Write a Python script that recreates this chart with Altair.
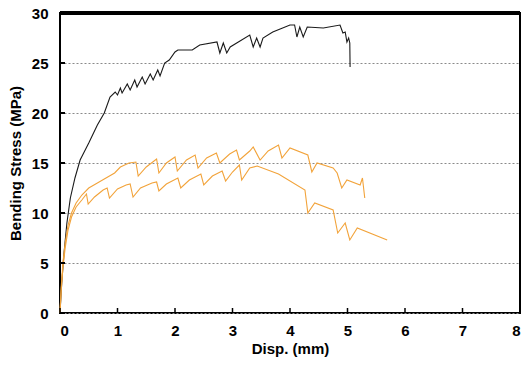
import altair as alt
import pandas as pd

# Bending stress vs. displacement, three specimens
black_x = [0, 0.03, 0.07, 0.12, 0.18, 0.26, 0.35, 0.5, 0.65, 0.77, 0.87, 0.96, 1.0, 1.05, 1.08,
           1.17, 1.22, 1.3, 1.34, 1.43, 1.48, 1.57, 1.62, 1.7, 1.74, 1.82, 1.9, 2.0, 2.05, 2.3,
           2.43, 2.73, 2.78, 2.84, 2.9, 2.96, 3.3, 3.36, 3.42, 3.48, 3.53, 3.7, 4.0, 4.08, 4.12,
           4.17, 4.23, 4.3, 4.58, 4.87, 4.92, 4.96, 4.99, 5.02, 5.04, 5.045]
black_y = [0, 3, 6, 9, 11.5, 13.5, 15.3, 17.0, 18.8, 20.0, 21.6, 22.1, 21.8, 22.5, 22.0,
           22.9, 22.3, 23.3, 22.6, 23.6, 22.9, 23.9, 23.3, 24.3, 23.7, 25.0, 25.3, 26.1, 26.3, 26.3,
           26.8, 27.1, 26.0, 27.0, 26.0, 26.6, 27.8, 26.6, 27.5, 26.6, 27.5, 28.1, 28.8, 28.8, 27.6,
           28.6, 27.6, 28.6, 28.5, 28.8, 28.0, 28.1, 27.1, 27.5, 27.0, 24.6]

upper_x = [0, 0.02, 0.05, 0.09, 0.14, 0.2, 0.28, 0.38, 0.5, 0.65, 0.8, 0.95, 1.05, 1.2, 1.32,
           1.36, 1.5, 1.68, 1.72, 1.85, 2.0, 2.04, 2.2, 2.35, 2.4, 2.55, 2.72, 2.78, 2.95, 3.07,
           3.12, 3.3, 3.36, 3.48, 3.62, 3.8, 3.86, 4.0, 4.31, 4.38, 4.47, 4.75, 4.82, 4.9, 4.99,
           5.22, 5.26, 5.3]
upper_y = [0, 2.5, 5, 7, 8.8, 10, 11, 11.8, 12.5, 13, 13.5, 14.0, 14.6, 15.0, 15.1,
           13.7, 14.6, 15.4, 14.0, 15.0, 15.6, 14.2, 15.3, 15.8, 14.5, 15.5, 16.0, 15.0, 15.9, 16.3,
           15.3, 16.2, 16.6, 15.3, 16.2, 16.8, 15.5, 16.5, 15.8, 14.1, 15.0, 14.5, 14.0, 12.5, 13.3,
           12.8, 13.5, 11.5]

lower_x = [0, 0.02, 0.05, 0.09, 0.14, 0.2, 0.28, 0.38, 0.46, 0.49, 0.6, 0.75, 0.82, 0.86, 1.0,
           1.15, 1.22, 1.27, 1.4, 1.6, 1.68, 1.72, 1.85, 2.05, 2.1, 2.25, 2.45, 2.5, 2.65, 2.82,
           2.88, 3.0, 3.12, 3.16, 3.3, 3.43, 3.8, 4.26, 4.31, 4.43, 4.75, 4.83, 4.96, 5.04, 5.17,
           5.69]
lower_y = [0, 2.2, 4.5, 6.5, 8.3, 9.6, 10.6, 11.3, 11.9, 10.9, 11.6, 12.3, 12.5, 11.5, 12.4,
           12.8, 12.9, 11.6, 12.5, 13.0, 13.1, 12.2, 12.9, 13.5, 12.5, 13.3, 13.9, 12.8, 13.7, 14.2,
           13.2, 14.1, 14.8, 13.3, 14.5, 14.7, 13.9, 12.3, 10.0, 11.0, 10.3, 8.0, 9.0, 7.3, 8.5,
           7.3]

x_ticks = [0, 1, 2, 3, 4, 5, 6, 7, 8]
y_ticks = [0, 5, 10, 15, 20, 25, 30]

rows = []
for name, xs, ys in [("A", black_x, black_y), ("B", upper_x, upper_y), ("C", lower_x, lower_y)]:
    for i, (xv, yv) in enumerate(zip(xs, ys)):
        rows.append({"specimen": name, "disp": xv, "stress": yv, "order": i})
df = pd.DataFrame(rows)

xscale = alt.Scale(domain=[0, 8], nice=False)
yscale = alt.Scale(domain=[0, 30], nice=False)
font = "Liberation Sans"

base = alt.Chart(df)

lines = base.mark_line(strokeWidth=1.1).encode(
    x=alt.X("disp:Q", scale=xscale,
            axis=alt.Axis(title="Disp. (mm)", values=x_ticks, format="d", grid=False,
                          ticks=False, domain=False, labelPadding=10, titlePadding=3)),
    y=alt.Y("stress:Q", scale=yscale,
            axis=alt.Axis(title="Bending Stress (MPa)", values=y_ticks, format="d",
                          ticks=False, domain=False, labelPadding=12, titlePadding=8,
                          grid=True, gridDash=[2, 2], gridColor="#8a8a8a",
                          gridWidth=1)),
    color=alt.Color("specimen:N", legend=None,
                    scale=alt.Scale(domain=["A", "B", "C"],
                                    range=["#1a1a1a", "#F2A33A", "#F2A33A"])),
    order="order:Q",
    detail="specimen:N",
)

xt = pd.DataFrame({"v": x_ticks})
yt = pd.DataFrame({"v": y_ticks})

x_tick_marks = alt.Chart(xt).mark_rule(color="black", strokeWidth=1.5).encode(
    x=alt.X("v:Q", scale=xscale), y=alt.value(300), y2=alt.value(295))
y_tick_marks = alt.Chart(yt).mark_rule(color="black", strokeWidth=2).encode(
    y=alt.Y("v:Q", scale=yscale), x=alt.value(0), x2=alt.value(5))
top_border = alt.Chart(xt).mark_rule(color="black", strokeWidth=3).encode(
    x=alt.value(0), x2=alt.value(460), y=alt.value(0))

chart = alt.layer(lines, x_tick_marks, y_tick_marks, top_border).properties(
    width=460, height=300,
    padding={"left": 60, "top": 13, "right": 2, "bottom": 52},
    autosize=alt.AutoSizeParams(type="none"),
).configure_view(
    stroke="black", strokeWidth=2
).configure_axis(
    labelFont=font, titleFont=font, labelFontSize=15, labelFontWeight="bold",
    titleFontSize=15, titleFontWeight="bold", labelColor="black", titleColor="black",
)

chart.save("out.html", embed_options={"renderer": "svg", "actions": False})
